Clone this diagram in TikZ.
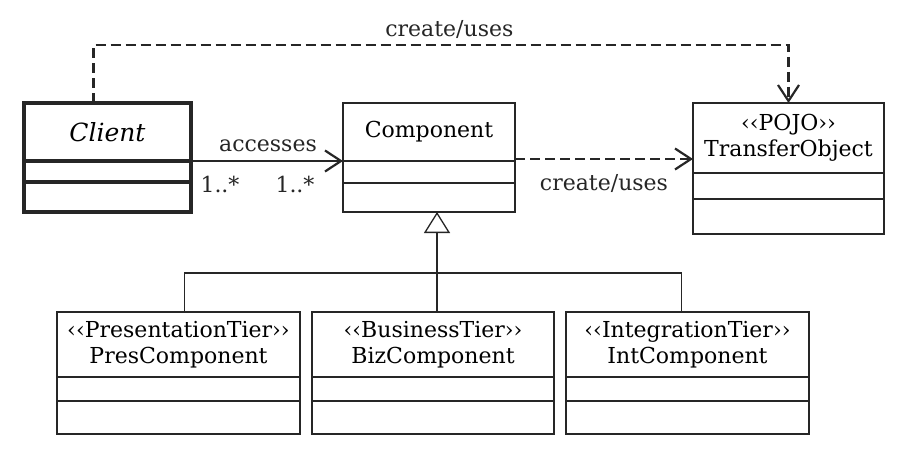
\documentclass[tikz,border=0pt]{standalone}
\usepackage{fontspec}
\setmainfont{DejaVu Serif}
\usetikzlibrary{arrows.meta}

\begin{document}
\begin{tikzpicture}[x=1pt,y=-1pt,
    every node/.style={font=\fontsize{22}{26}\selectfont},
    cls/.style={draw=black!85, line width=1.3pt, inner sep=0pt, outer sep=0pt, anchor=north west, align=center},
    part/.style={draw=black!85, line width=1.3pt, inner sep=0pt, outer sep=0pt, anchor=north},
    lbl/.style={inner sep=2pt},
    assoc/.style={black!85, line width=2.2pt, -{Straight Barb[length=16pt,width=21pt]}},
    dep/.style={assoc, dash pattern=on 10pt off 5pt},
    gen/.style={black!85, line width=1.3pt, -{Triangle[open,fill=white,length=21pt,width=26pt]}}]
    \useasboundingbox[fill=white] (0,0) rectangle (916,476);

    \node[cls, line width=4pt, minimum width=167pt, minimum height=58pt] (client) at (24,103) {\fontsize{25}{28}\selectfont\textit{Client}};
    \node[part, line width=4pt, minimum width=167pt, minimum height=21pt] (client-a) at (client.south) {};
    \node[part, line width=4pt, minimum width=167pt, minimum height=30pt] (client-o) at (client-a.south) {};

    \node[cls, minimum width=172pt, minimum height=58pt] (comp) at (343,103) {Component};
    \node[part, minimum width=172pt, minimum height=22pt] (comp-a) at (comp.south) {};
    \node[part, minimum width=172pt, minimum height=29pt] (comp-o) at (comp-a.south) {};

    \node[cls, minimum width=191pt, minimum height=70pt] (trans) at (693,103) {‹‹POJO››\\TransferObject};
    \node[part, minimum width=191pt, minimum height=26pt] (trans-a) at (trans.south) {};
    \node[part, minimum width=191pt, minimum height=35pt] (trans-o) at (trans-a.south) {};

    \node[cls, minimum width=243pt, minimum height=65pt] (pres) at (57,312) {‹‹PresentationTier››\\PresComponent};
    \node[part, minimum width=243pt, minimum height=24pt] (pres-a) at (pres.south) {};
    \node[part, minimum width=243pt, minimum height=33pt] (pres-o) at (pres-a.south) {};

    \node[cls, minimum width=242pt, minimum height=65pt] (biz) at (312,312) {‹‹BusinessTier››\\BizComponent};
    \node[part, minimum width=242pt, minimum height=24pt] (biz-a) at (biz.south) {};
    \node[part, minimum width=242pt, minimum height=33pt] (biz-o) at (biz-a.south) {};

    \node[cls, minimum width=243pt, minimum height=65pt] (int) at (566,312) {‹‹IntegrationTier››\\IntComponent};
    \node[part, minimum width=243pt, minimum height=24pt] (int-a) at (int.south) {};
    \node[part, minimum width=243pt, minimum height=33pt] (int-o) at (int-a.south) {};

    % associations
    \draw[dep] ([xshift=-14pt]client.north) -- ++(0,-58) -| node[lbl, pos=0.256, above=3pt] {create/uses} (trans.north);
    \draw[assoc] ([xshift=2pt]client.south east) -- node[lbl, above=6pt] {accesses}
        node[lbl, pos=0.18, below=12pt] {1..*} node[lbl, pos=0.68, below=12pt] {1..*} (comp.south west);
    \draw[dep] ([yshift=2pt]comp.south east) -- node[lbl, below=12pt] {create/uses} ([yshift=2pt]comp.south east -| trans.west);

    % generalization
    \coordinate (fork) at (437,273);
    \draw[gen] ([xshift=4pt]biz.north) -- ([xshift=8pt]comp-o.south);
    \draw[black!85, line width=1.3pt] ([xshift=6pt]pres.north) |- (fork) -| ([xshift=-6pt]int.north);
\end{tikzpicture}
\end{document}
